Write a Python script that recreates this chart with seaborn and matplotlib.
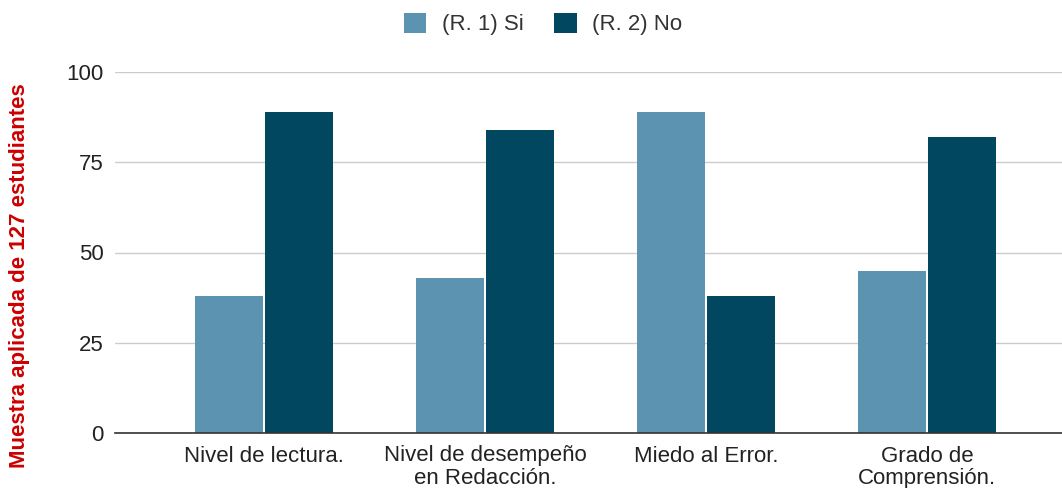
import matplotlib
matplotlib.use("Agg")
import matplotlib.pyplot as plt
import seaborn as sns
import pandas as pd

categories = ["Nivel de lectura.", "Nivel de desempeño\nen Redacción.", "Miedo al Error.", "Grado de\nComprensión."]
si_values = [38, 43, 89, 45]
no_values = [89, 84, 38, 82]
series_names = ["(R. 1) Si", "(R. 2) No"]
colors = ["#5b93b0", "#00475f"]

df = pd.DataFrame({
    "cat": categories * 2,
    "val": si_values + no_values,
    "serie": [series_names[0]] * 4 + [series_names[1]] * 4,
})

sns.set_theme(style="white")
plt.rcParams['font.family'] = ['Liberation Sans', 'DejaVu Sans']

fig = plt.figure(figsize=(10.62, 4.88), dpi=100)
ax = fig.add_axes([115/1062, 1-433/488, 1-115/1062, (433-72)/488])

sns.barplot(data=df, x="cat", y="val", hue="serie", palette=colors, ax=ax,
            width=0.636, gap=0.03, saturation=1, edgecolor="none", linewidth=0)

ax.set_ylim(0, 100)
ax.set_xlim(-0.674, 3.61)
ax.set_yticks([0, 25, 50, 75, 100])
ax.yaxis.grid(True, color="#cccccc", linewidth=1)
ax.set_axisbelow(True)
for s in ["top", "right", "left"]:
    ax.spines[s].set_visible(False)
ax.spines["bottom"].set_color("#333333")
ax.spines["bottom"].set_linewidth(1.2)
ax.tick_params(axis="both", length=0, labelsize=16, colors="#222222")
ax.tick_params(axis="y", pad=8)
ax.tick_params(axis="x", pad=9)
for lbl in ax.get_xticklabels():
    lbl.set_linespacing(1.1)
ax.set_xlabel("")
ax.set_ylabel("Muestra aplicada de 127 estudiantes", color="#cc0000", fontsize=16,
              fontweight="bold")
ax.yaxis.set_label_coords(-0.090, 0.437)

handles, labels = ax.get_legend_handles_labels()
ax.legend(handles, labels, loc="center", bbox_to_anchor=(543/1062, 1-24/488),
          bbox_transform=fig.transFigure, ncol=2, frameon=False, fontsize=16,
          handlelength=1.0, handleheight=1.0, handletextpad=0.7, columnspacing=1.4,
          labelcolor="#333333")

fig.savefig("out.png", dpi=100)
